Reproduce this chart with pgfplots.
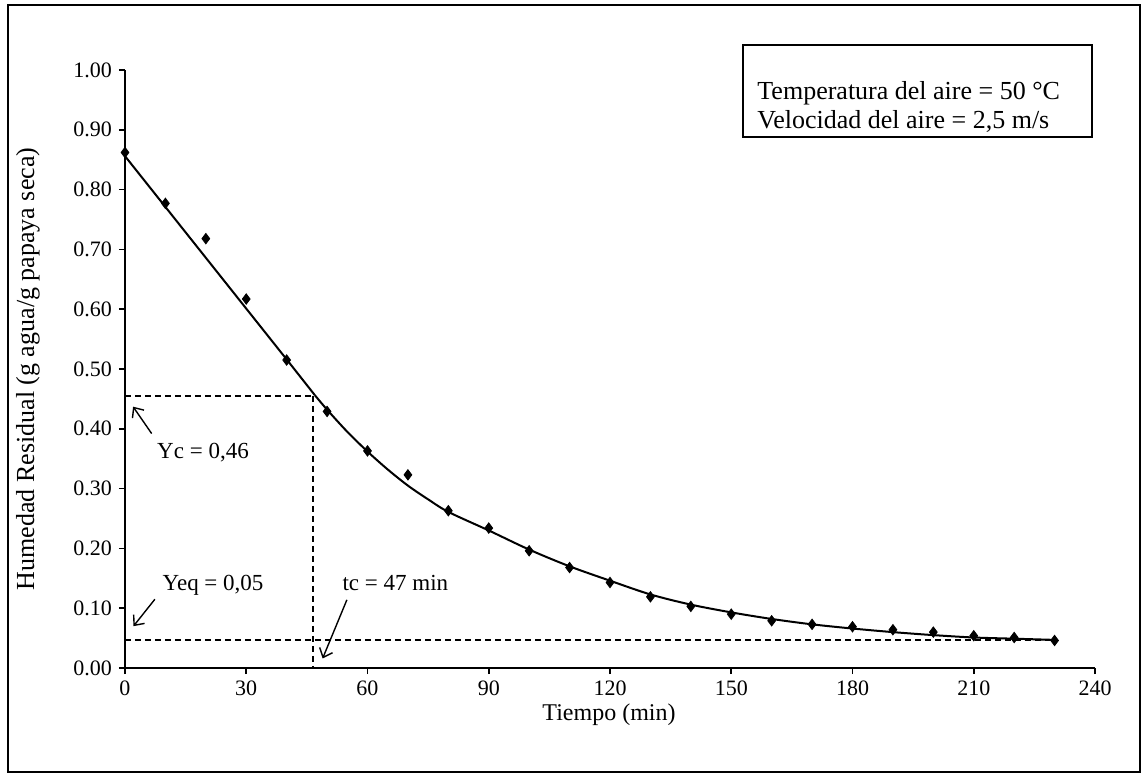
\documentclass[border=0pt]{standalone}
\usepackage{pgfplots}
\pgfplotsset{compat=1.18}
\usepackage{fontspec}
\setmainfont{Liberation Serif}
\usetikzlibrary{arrows.meta}
\begin{document}
\begin{tikzpicture}[x=1pt,y=1pt]
\useasboundingbox (-62.5,-54.5) rectangle (510.5,334);
\draw[line width=1pt] (-58.5,-52) rectangle (507.5,331.5);
\begin{axis}[
  at={(0,0)}, anchor=south west,
  scale only axis, width=485pt, height=299pt,
  xmin=0, xmax=240, ymin=0, ymax=1,
  axis x line*=bottom, axis y line*=left,
  axis line style={line width=0.8pt, -},
  xtick={0,30,...,240}, ytick={0,0.1,...,1.0},
  tick align=outside, tick style={black, line width=0.8pt},
  major tick length=3pt,
  yticklabel style={/pgf/number format/.cd, fixed, fixed zerofill, precision=2},
  /pgf/number format/assume math mode=true,
  font=\fontsize{11}{13}\selectfont,
  ticklabel style={font=\fontsize{11}{13}\selectfont},
  xlabel={Tiempo (min)},
  ylabel={Humedad Residual (g agua/g papaya seca)},
  xlabel style={at={(axis description cs:0.499,-0.0786)}, anchor=center, font=\fontsize{12}{14}\selectfont},
  ylabel style={at={(axis description cs:-0.1,0.5)}, anchor=center, font=\fontsize{13}{15}\selectfont},
  clip=false,
]
% dashed guide lines
\addplot[black, line width=0.8pt, dash pattern=on 3pt off 2pt] coordinates {(0,0.455) (46.5,0.455)};
\addplot[black, line width=0.8pt, dash pattern=on 3pt off 2pt] coordinates {(46.5,0.455) (46.5,0)};
\addplot[black, line width=0.8pt, dash pattern=on 3pt off 2pt] coordinates {(0,0.047) (230,0.047)};
% model curve
\addplot[black, line width=1pt, no marks] coordinates {
(0,0.856) (10,0.771) (20,0.686) (30,0.601) (40,0.516) (47,0.456)};
\addplot[black, line width=1pt, no marks, smooth] coordinates {
(47,0.456) (50,0.432) (55,0.395) (60,0.362) (65,0.332) (70,0.305) (75,0.282) (80,0.261)
(90,0.230) (100,0.198) (110,0.170) (120,0.146) (130,0.123) (140,0.106) (150,0.093)
(160,0.082) (170,0.073) (180,0.066) (190,0.060) (200,0.055) (210,0.051) (220,0.049) (230,0.047)};
% experimental points
\addplot[only marks, mark=diamond*, mark size=2.6pt, black] coordinates {
(0,0.862) (10,0.777) (20,0.718) (30,0.617) (40,0.515) (50,0.429) (60,0.363) (70,0.323)
(80,0.263) (90,0.234) (100,0.196) (110,0.168) (120,0.143) (130,0.119) (140,0.103)
(150,0.090) (160,0.079) (170,0.073) (180,0.069) (190,0.064) (200,0.060) (210,0.054)
(220,0.051) (230,0.046)};
% annotations
\node[anchor=center, font=\fontsize{11.5}{13}\selectfont] at (axis cs:19.3,0.361) {Yc = 0,46};
\draw[-{Straight Barb[length=4pt,width=7pt]}, line width=0.7pt] (axis cs:6.6,0.392) -- (axis cs:2.0,0.437);
\node[anchor=center, font=\fontsize{11.5}{13}\selectfont] at (axis cs:21.8,0.139) {Yeq = 0,05};
\draw[-{Straight Barb[length=4pt,width=7pt]}, line width=0.7pt] (axis cs:7.4,0.115) -- (axis cs:2.1,0.070);
\node[anchor=center, font=\fontsize{11.5}{13}\selectfont] at (axis cs:66.9,0.142) {tc = 47 min};
\draw[-{Straight Barb[length=4pt,width=7pt]}, line width=0.7pt] (axis cs:54.9,0.114) -- (axis cs:48.9,0.016);
\end{axis}
\draw[line width=0.8pt] (309,265.5) rectangle (483.5,311.5);
\node[anchor=west, align=left, font=\fontsize{13}{14.5}\selectfont, inner sep=0pt] at (316,280.5)
  {Temperatura del aire = 50 °C\\Velocidad del aire = 2,5 m/s};
\end{tikzpicture}
\end{document}
